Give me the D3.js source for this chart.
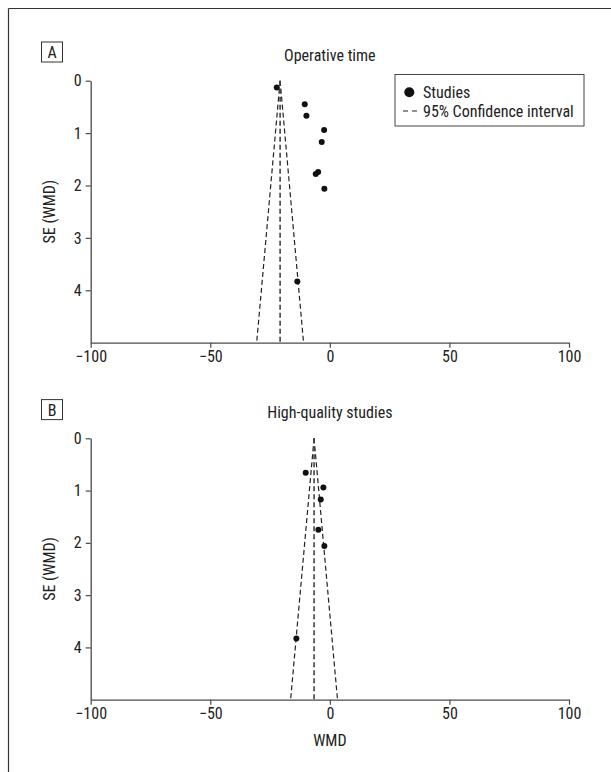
<!DOCTYPE html>
<html><head><meta charset="utf-8">
<script src="https://cdn.jsdelivr.net/npm/d3@7"></script>
<style>
body{margin:0;background:#fff;}
svg text{font-family:"Liberation Sans Narrow","Roboto Condensed","DejaVu Sans Condensed",sans-serif;fill:#222;}
</style></head>
<body><svg id="c" width="611" height="772"></svg>
<script>
const xTicks = [-100, -50, 0, 50, 100];
const xTickLabels = ["\u2212100", "\u221250", "0", "50", "100"];
const yTicks = [0, 1, 2, 3, 4];
const panelLetters = ["A", "B"];
const panelTitles = ["Operative time", "High-quality studies"];
const pooled = [-20.8, -6.6];
const seMax = 5;
const studiesA_wmd = [-22.2, -10.5, -9.8, -2.4, -3.4, -4.9, -5.9, -2.3, -13.6];
const studiesA_se  = [0.13, 0.45, 0.67, 0.94, 1.17, 1.74, 1.78, 2.06, 3.83];
const studiesB_wmd = [-10.1, -2.7, -3.8, -4.8, -2.3, -14.0];
const studiesB_se  = [0.66, 0.94, 1.17, 1.75, 2.06, 3.83];
const legendLabels = ["Studies", "95% Confidence interval"];

const svg = d3.select("#c");
const axisColor = "#4a4a4a";
const fs = "16px";
const ff = '"Liberation Sans Narrow","Roboto Condensed","DejaVu Sans Condensed",sans-serif';

svg.append("line").attr("x1",8.5).attr("x2",611).attr("y1",8.5).attr("y2",8.5).attr("stroke","#333").attr("stroke-width",1.2);
svg.append("line").attr("x1",8.5).attr("x2",8.5).attr("y1",8.5).attr("y2",772).attr("stroke","#333").attr("stroke-width",1.2);

const x = d3.scaleLinear().domain([-100,100]).range([90.7,569]);
const panels = [
  {top:80.7, bottom:342.7, wmd:studiesA_wmd, se:studiesA_se, legend:true},
  {top:438.3, bottom:699.7, wmd:studiesB_wmd, se:studiesB_se, legend:false}
];

panels.forEach((p,i)=>{
  const y = d3.scaleLinear().domain([0,seMax]).range([p.top,p.bottom]);
  const g = svg.append("g");

  const by = p.top - 38.7;
  g.append("rect").attr("x",41.5).attr("y",by).attr("width",21).attr("height",20)
    .attr("fill","none").attr("stroke","#333").attr("stroke-width",1);
  g.append("text").attr("x",52).attr("y",by+16).attr("text-anchor","middle")
    .style("font-size","16px").text(panelLetters[i]);

  g.append("text").attr("x",(x.range()[0]+x.range()[1])/2).attr("y",p.top-20)
    .attr("text-anchor","middle").style("font-size",fs).text(panelTitles[i]);

  const xa = g.append("g").attr("transform",`translate(0,${p.bottom})`)
    .call(d3.axisBottom(x).tickValues(xTicks).tickFormat((d,j)=>xTickLabels[j]).tickSize(5).tickSizeOuter(0).tickPadding(3));
  const ya = g.append("g").attr("transform",`translate(${x.range()[0]},0)`)
    .call(d3.axisLeft(y).tickValues(yTicks).tickFormat(d3.format("d")).tickSize(5).tickSizeOuter(0).tickPadding(4));
  [xa,ya].forEach(a=>{
    a.select(".domain").attr("stroke",axisColor).attr("stroke-width",1.3);
    a.selectAll(".tick line").attr("stroke",axisColor).attr("stroke-width",1.2);
    a.selectAll(".tick text").style("font-size",fs).attr("fill","#222").style("font-family",ff);
  });

  g.append("text").attr("transform",`translate(55,${(p.top+p.bottom)/2}) rotate(-90)`)
    .attr("text-anchor","middle").style("font-size",fs).text("SE (WMD)");

  const pe = pooled[i];
  const half = 1.96*seMax;
  const dash = "5,3";
  [[pe,0,pe-half,seMax],[pe,0,pe+half,seMax],[pe,0,pe,seMax]].forEach((l,k)=>{
    g.append("line").attr("x1",x(l[0])).attr("y1",y(l[1])).attr("x2",x(l[2])).attr("y2",y(l[3]))
      .attr("stroke", k===2 ? "#444" : "#222").attr("stroke-width", k===2?1.6:1.2).attr("stroke-dasharray",dash);
  });

  g.selectAll("circle.pt").data(d3.range(p.wmd.length)).join("circle").attr("class","pt")
    .attr("cx",j=>x(p.wmd[j])).attr("cy",j=>y(p.se[j])).attr("r",3).attr("fill","#111");

  if(p.legend){
    const lg = g.append("g");
    lg.append("rect").attr("x",395).attr("y",74.5).attr("width",189).attr("height",51.5)
      .attr("fill","#fff").attr("stroke","#444").attr("stroke-width",1);
    lg.append("circle").attr("cx",409.3).attr("cy",92.3).attr("r",5).attr("fill","#111");
    lg.append("text").attr("x",423).attr("y",98).style("font-size",fs).text(legendLabels[0]);
    lg.append("line").attr("x1",403).attr("x2",417).attr("y1",111).attr("y2",111)
      .attr("stroke","#222").attr("stroke-width",1.2).attr("stroke-dasharray","5,4");
    lg.append("text").attr("x",423).attr("y",116.5).style("font-size",fs).text(legendLabels[1]);
  }
});

svg.append("text").attr("x",x(0)).attr("y",746).attr("text-anchor","middle")
  .style("font-size",fs).text("WMD");
</script></body></html>
